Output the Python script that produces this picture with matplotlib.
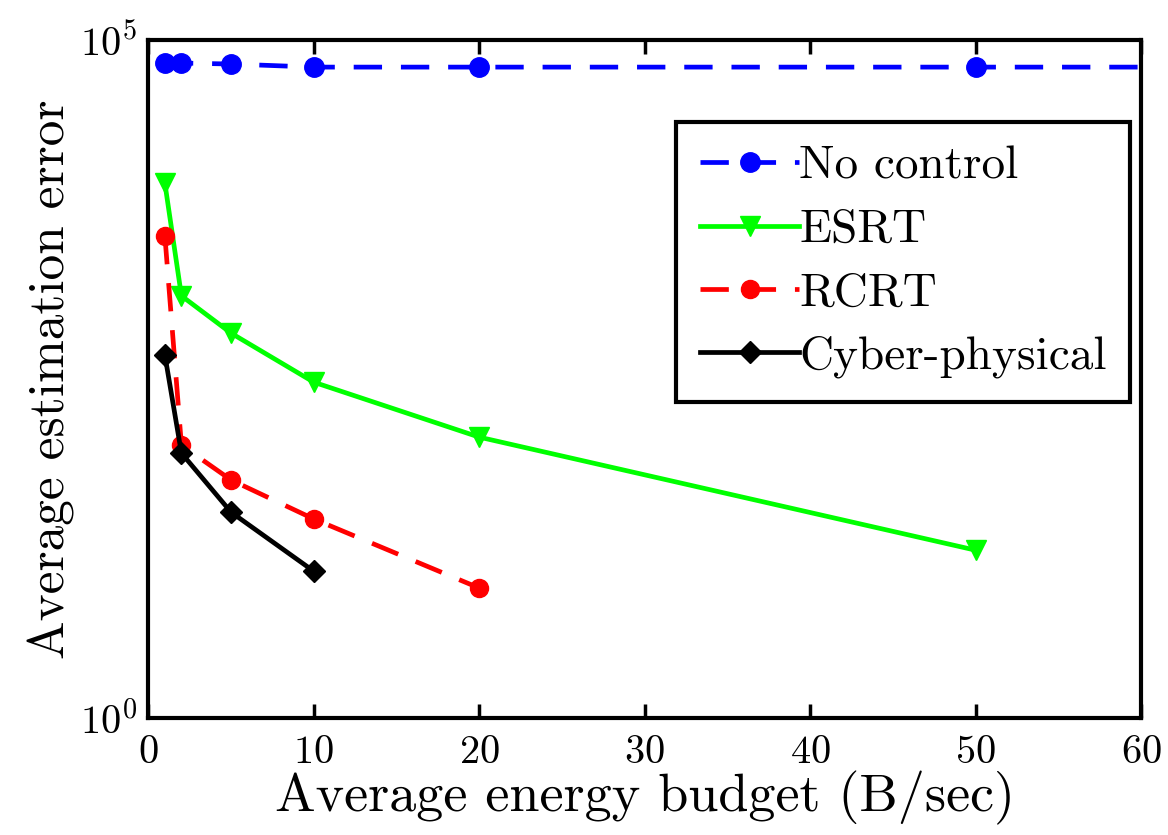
import matplotlib
matplotlib.use('Agg')
import matplotlib.pyplot as plt

plt.rcParams['font.family'] = 'serif'
plt.rcParams['font.serif'] = ['cmr10', 'DejaVu Serif']
plt.rcParams['mathtext.fontset'] = 'cm'
plt.rcParams['axes.formatter.use_mathtext'] = True

# data
x_none = [1, 2, 5, 10, 20, 50, 100]
y_none = [67700, 67700, 66600, 63200, 63200, 63200, 63200]
x_esrt = [1, 2, 5, 10, 20, 50]
y_esrt = [8800, 1300, 690, 300, 118, 17.3]
x_rcrt = [1, 2, 5, 10, 20]
y_rcrt = [3590, 103, 57, 29.4, 9.1]
x_cps = [1, 2, 5, 10]
y_cps = [475, 90, 33, 12.1]

fig = plt.figure(figsize=(11.68, 8.35), dpi=100)
ax = fig.add_axes([0.127, 0.140, 0.850, 0.812])

ax.plot(x_none, y_none, color='#0000ff', lw=3.4, ls='--', dashes=(6, 4),
        marker='o', ms=14, label='No control')
ax.plot(x_esrt, y_esrt, color='#00ff00', lw=3.4, ls='-',
        marker='v', ms=14, label='ESRT')
ax.plot(x_rcrt, y_rcrt, color='#ff0000', lw=3.4, ls='--', dashes=(6, 4),
        marker='o', ms=13, label='RCRT')
ax.plot(x_cps, y_cps, color='black', lw=3.4, ls='-',
        marker='D', ms=11, label='Cyber-physical')

ax.set_yscale('log')
ax.set_xlim(0, 60)
ax.set_ylim(1, 1e5)
ax.set_xticks([0, 10, 20, 30, 40, 50, 60])
ax.set_yticks([1, 1e5])
ax.minorticks_off()
ax.tick_params(axis='x', direction='in', top=True, length=10, width=2.5,
               labelsize=29, pad=12)
ax.tick_params(axis='y', length=0, labelsize=29, pad=8)
for s in ax.spines.values():
    s.set_linewidth(3)

ax.set_xlabel('Average energy budget (B/sec)', fontsize=39, labelpad=0)
ax.set_ylabel('Average estimation error', fontsize=37, labelpad=4)

leg = ax.legend(loc='upper right', bbox_to_anchor=(0.989, 0.879), fontsize=34,
                fancybox=False, framealpha=1, edgecolor='black',
                borderaxespad=0, handlelength=2.1, handletextpad=0.0,
                borderpad=0.5, labelspacing=0.45)
leg.get_frame().set_linewidth(3)

fig.savefig('out.png', dpi=100)
